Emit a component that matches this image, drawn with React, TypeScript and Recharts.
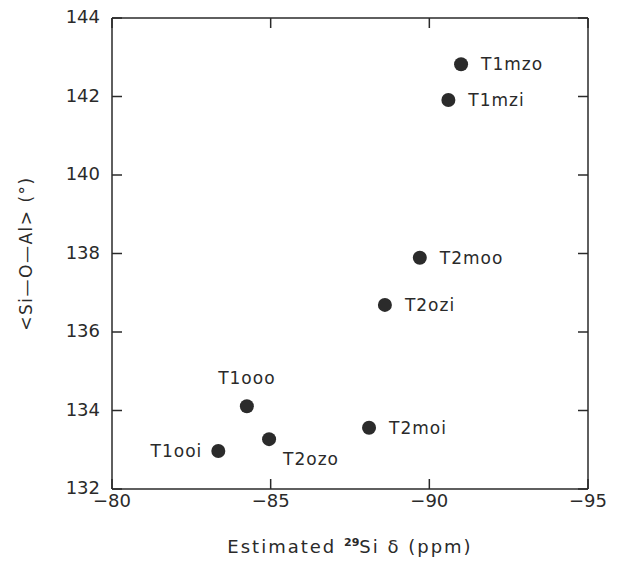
import React from "react";
import {
  ScatterChart,
  Scatter,
  XAxis,
  YAxis,
  Label,
  LabelList,
} from "recharts";

const sites = ["T1mzo", "T1mzi", "T2moo", "T2ozi", "T2moi", "T1ooo", "T2ozo", "T1ooi"];
const siShift = [-91.0, -90.6, -89.7, -88.6, -88.1, -84.25, -84.95, -83.35];
const siOAl = [142.82, 141.91, 137.89, 136.69, 133.56, 134.11, 133.27, 132.97];

const xTicks = [-80, -85, -90, -95];
const yTicks = [132, 134, 136, 138, 140, 142, 144];

// where each site label sits relative to its dot
const labelSide: Record<string, "right" | "left" | "above" | "below"> = {
  T1ooo: "above",
  T1ooi: "left",
  T2ozo: "below",
};

const points = sites.map((name, i) => ({ name, x: siShift[i], y: siOAl[i] }));

const FONT = "'DejaVu Sans', sans-serif";
const INK = "#2a2a2a";

const fmt = (v: number) => String(v).replace("-", "\u2212");

function SiteLabel(props: any) {
  const { x, y, width, height, value } = props;
  const cx = x + width / 2;
  const cy = y + height / 2;
  const side = labelSide[value] || "right";
  let tx = cx + 20;
  let ty = cy + 6;
  let anchor: "start" | "middle" | "end" = "start";
  if (side === "left") {
    tx = cx - 16;
    anchor = "end";
  } else if (side === "above") {
    tx = cx;
    ty = cy - 22;
    anchor = "middle";
  } else if (side === "below") {
    tx = cx + 14;
    ty = cy + 26;
  }
  return (
    <text x={tx} y={ty} textAnchor={anchor} fontFamily={FONT} fontSize={17}
      letterSpacing={1} fill={INK}>
      {value}
    </text>
  );
}

function XTitle({ viewBox }: any) {
  const cx = viewBox.x + viewBox.width / 2;
  return (
    <text x={cx} y={553} textAnchor="middle" fontFamily={FONT} fontSize={18}
      letterSpacing={2} fill={INK}>
      Estimated{" "}
      <tspan fontSize={11} fontWeight="bold" letterSpacing={0} dy={-7}>29</tspan>
      <tspan dy={7}>Si δ (ppm)</tspan>
    </text>
  );
}

function YTitle({ viewBox }: any) {
  const cy = viewBox.y + viewBox.height / 2;
  return (
    <text
      x={32}
      y={cy}
      transform={`rotate(-90, 32, ${cy})`}
      textAnchor="middle"
      fontFamily={FONT}
      fontSize={17}
      letterSpacing={1.5}
      fill={INK}
    >
      {"<Si\u2014O\u2014Al> (\u00B0)"}
    </text>
  );
}

export default function App() {
  const axisLine = { stroke: INK, strokeWidth: 1.5 };
  const tickLine = { stroke: INK, strokeWidth: 1.5 };
  const tickText = { fontFamily: FONT, fontSize: 18, fill: INK };
  const blank = () => "";
  return (
    <div style={{ position: "fixed", left: 0, top: 0, background: "#fff" }}>
      <ScatterChart width={623} height={563} margin={{ top: 0, right: 0, bottom: 0, left: 0 }}>
        <XAxis
          type="number"
          dataKey="x"
          domain={[-95, -80]}
          reversed
          ticks={xTicks}
          interval={0}
          height={74}
          tickSize={-10}
          tickMargin={15}
          tickLine={tickLine}
          axisLine={axisLine}
          tick={tickText}
          tickFormatter={fmt}
        >
          <Label content={<XTitle />} />
        </XAxis>
        <XAxis
          xAxisId="top"
          orientation="top"
          type="number"
          dataKey="x"
          domain={[-95, -80]}
          allowDataOverflow
          reversed
          ticks={xTicks}
          interval={0}
          height={18}
          tickSize={-10}
          tickMargin={0}
          tickLine={tickLine}
          axisLine={axisLine}
          tick={tickText}
          tickFormatter={blank}
        />
        <YAxis
          type="number"
          dataKey="y"
          domain={[132, 144]}
          ticks={yTicks}
          interval={0}
          width={112}
          tickSize={-10}
          tickMargin={22}
          tickLine={tickLine}
          axisLine={axisLine}
          tick={{ ...tickText, dy: -1 }}
        >
          <Label content={<YTitle />} />
        </YAxis>
        <YAxis
          yAxisId="right"
          orientation="right"
          type="number"
          dataKey="y"
          domain={[132, 144]}
          allowDataOverflow
          ticks={yTicks}
          interval={0}
          width={35}
          tickSize={-10}
          tickMargin={0}
          tickLine={tickLine}
          axisLine={axisLine}
          tick={tickText}
          tickFormatter={blank}
        />
        {/* invisible copy so the mirrored frame axes get a domain */}
        <Scatter data={points} xAxisId="top" yAxisId="right" isAnimationActive={false}
          legendType="none" shape={() => <g />} />
        <Scatter data={points} fill="#2b2b2b" isAnimationActive={false}
          shape={(p: any) => <circle cx={p.cx} cy={p.cy} r={7} fill="#2b2b2b" />}>
          <LabelList dataKey="name" content={<SiteLabel />} />
        </Scatter>
      </ScatterChart>
    </div>
  );
}
